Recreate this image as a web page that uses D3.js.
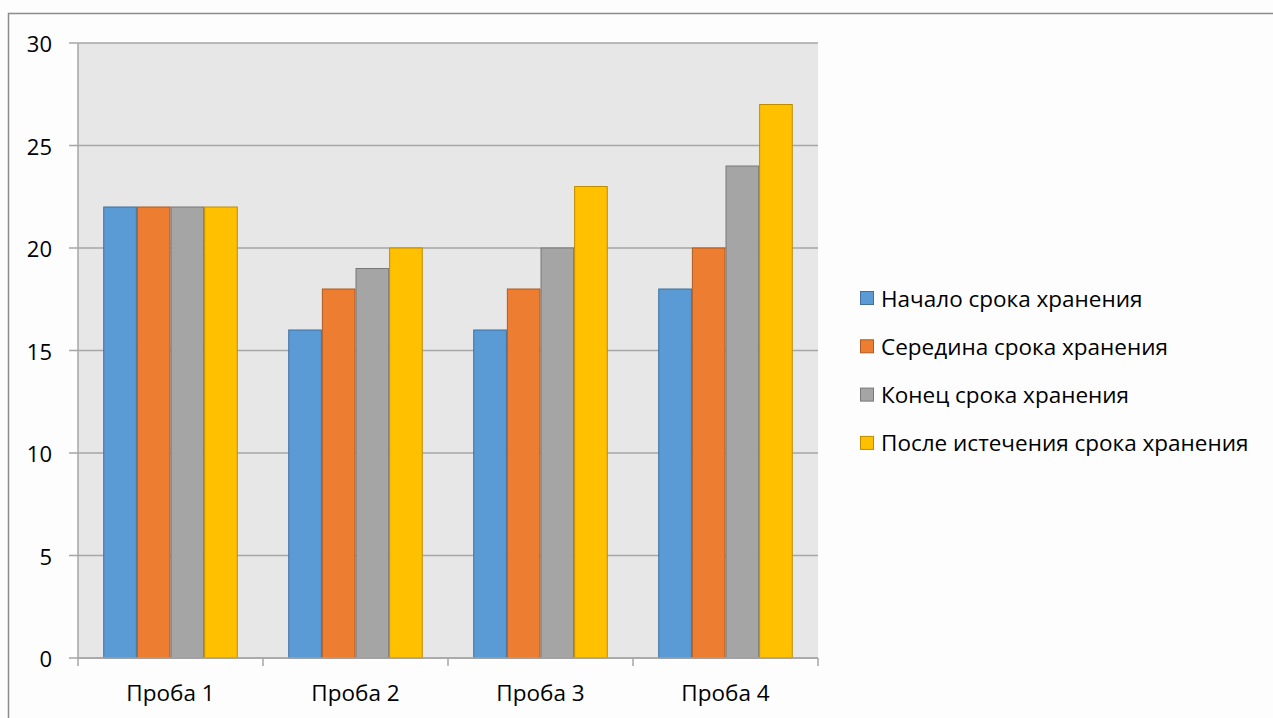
<!DOCTYPE html>
<html><head><meta charset="utf-8">
<script src="https://cdn.jsdelivr.net/npm/d3@7"></script>
<style>body{margin:0;background:#fff;} svg{display:block;} text{font-family:"Open Sans",sans-serif;fill:#000;}</style>
</head><body>
<svg id="c" width="1273" height="718"></svg>
<script>
const categories = ["Проба 1","Проба 2","Проба 3","Проба 4"];
const seriesNames = ["Начало срока хранения","Середина срока хранения","Конец срока хранения","После истечения срока хранения"];
const start = [22,16,16,18];
const middle = [22,18,18,20];
const end = [22,19,20,24];
const after = [22,20,23,27];
const yTicks = [0,5,10,15,20,25,30];
const colors = ["#5b9bd5","#ed7d31","#a5a5a5","#ffc000"];
const strokes = ["#41719c","#ae5a21","#787878","#bc8c00"];
const series = [start, middle, end, after];

const svg = d3.select("#c");
svg.append("rect").attr("x",0).attr("y",0).attr("width",1273).attr("height",718).attr("fill","#fdfdfd");
svg.append("rect").attr("x",8.5).attr("y",13.5).attr("width",1280).attr("height",720).attr("fill","none").attr("stroke","#8c8c8c").attr("stroke-width",1.5);

const L=78, R=818, T=43, B=658;
const x = d3.scaleBand().domain(categories).range([L,R]).paddingInner(0).paddingOuter(0);
const bw = x.bandwidth();
const inner = d3.scaleBand().domain(d3.range(4)).range([0, bw]).paddingOuter(0.75).paddingInner(0);
const y = d3.scaleLinear().domain([0,30]).range([B,T]);

svg.append("rect").attr("x",L).attr("y",T).attr("width",R-L).attr("height",B-T).attr("fill","#e7e7e7");

svg.append("g").selectAll("line").data(yTicks).join("line")
  .attr("x1",L-9).attr("x2",R).attr("y1",d=>y(d)).attr("y2",d=>y(d))
  .attr("stroke","#a6a6a6").attr("stroke-width",1.5);
svg.append("line").attr("x1",L).attr("x2",L).attr("y1",T).attr("y2",B).attr("stroke","#a6a6a6").attr("stroke-width",1.5);

series.forEach((vals,i)=>{
  svg.append("g").selectAll("rect").data(vals).join("rect")
    .attr("x",(d,j)=>x(categories[j])+inner(i)+0.5)
    .attr("y",d=>y(d))
    .attr("width",inner.bandwidth()-1)
    .attr("height",d=>B-y(d))
    .attr("fill",colors[i]).attr("stroke",strokes[i]).attr("stroke-width",1);
});

svg.append("line").attr("x1",L).attr("x2",R).attr("y1",B).attr("y2",B).attr("stroke","#a6a6a6").attr("stroke-width",1.5);
const xt = categories.map(c=>x(c)).concat([R]);
svg.append("g").selectAll("line").data(xt).join("line")
  .attr("x1",d=>d).attr("x2",d=>d).attr("y1",B).attr("y2",B+8).attr("stroke","#a6a6a6").attr("stroke-width",1.5);

svg.append("g").selectAll("text").data(categories).join("text")
  .attr("x",d=>x(d)+bw/2).attr("y",692).attr("text-anchor","middle").attr("dominant-baseline","central")
  .attr("font-size",22.5).text(d=>d);

svg.append("g").selectAll("text").data(yTicks).join("text")
  .attr("x",52).attr("y",d=>y(d)).attr("text-anchor","end").attr("dominant-baseline","central")
  .attr("font-size",22).text(d=>d);

const lg = svg.append("g");
seriesNames.forEach((n,i)=>{
  const cy = 298 + i*48.3;
  lg.append("rect").attr("x",860.5).attr("y",cy-6.5).attr("width",13).attr("height",13).attr("fill",colors[i]).attr("stroke",strokes[i]);
  lg.append("text").attr("x",881).attr("y",cy).attr("dominant-baseline","central").attr("font-size",22.5).text(n);
});
</script>
</body></html>
